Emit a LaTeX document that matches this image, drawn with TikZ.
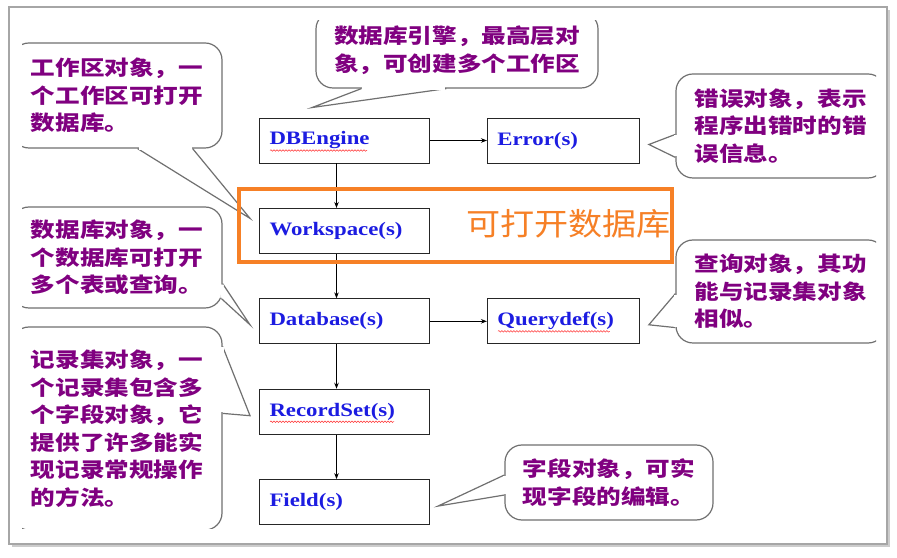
\documentclass[tikz,border=0pt]{standalone}
\usepackage{fontspec}
\setmainfont{Liberation Serif}
\newfontfamily\cjk[FakeStretch=1.2]{Noto Sans CJK SC}
\newfontfamily\hlfont[FakeStretch=1.1]{Noto Sans CJK SC}
\newfontfamily\objfont[FakeStretch=1.2]{Liberation Serif}
\usetikzlibrary{positioning, shadows, arrows.meta, decorations.pathmorphing}
\definecolor{notepurple}{RGB}{128,0,128}
\definecolor{objblue}{RGB}{28,28,225}
\definecolor{hlorange}{RGB}{246,128,38}
\definecolor{notegray}{RGB}{112,112,112}

\begin{document}
\begin{tikzpicture}[
    x=1pt, y=1pt,
    node distance=44.5pt and 57pt,
    >={Stealth[length=6pt, width=4.5pt]},
    panel/.style={draw=black!35, line width=1.2pt, fill=white, drop shadow={shadow xshift=2.5pt, shadow yshift=-3pt, opacity=0.4}},
    object/.style={draw=black!85, line width=0.9pt, minimum height=45pt, text width=150pt, inner xsep=10pt, align=left, text=objblue, font=\objfont\bfseries\fontsize{19}{21}\selectfont},
    subobject/.style={object, text width=132pt},
    note/.style={draw=notegray, line width=1.2pt, fill=white, rounded corners=17pt, inner sep=0pt, align=left, text=notepurple, font=\cjk\bfseries\fontsize{20.5}{27.5}\selectfont},
    tail/.style={draw=notegray, line width=1.2pt},
    gap/.style={draw=white, line width=2.6pt, shorten <=1pt, shorten >=1pt},
    spell/.style={draw=red!80, line width=0.5pt, decorate, decoration={snake, amplitude=0.8pt, segment length=3pt}},
    highlight/.style={draw=hlorange, line width=4.5pt},
    hltext/.style={text=hlorange, inner sep=0pt, font=\hlfont\fontsize{31}{34}\selectfont}
]
    \useasboundingbox (0,0) rectangle (897,557);

    % Frame
    \node[panel, minimum width=878pt, minimum height=537pt] (frame) at (448,281.5) {};

    % Objects
    \node[object] (db) at (344.5,416.5) {DBEngine};
    \node[object, below=of db] (wsp) {Workspace(s)};
    \node[object, below=of wsp] (dbs) {Database(s)};
    \node[object, below=of dbs] (rs) {RecordSet(s)};
    \node[object, below=of rs] (fld) {Field(s)};
    \node[subobject, right=of db] (err) {Error(s)};
    \node[subobject, right=of dbs] (qd) {Querydef(s)};

    % Spelling marks
    \draw[spell] ([xshift=11pt, yshift=-10pt]db.west) -- ++(97,0);
    \draw[spell] ([xshift=11pt, yshift=-10pt]rs.west) -- ++(124,0);
    \draw[spell] ([xshift=11pt, yshift=-10pt]qd.west) -- ++(112,0);

    % Arrows
    \draw[->, line width=0.9pt] ([xshift=-8pt]db.south) -- ([xshift=-8pt]wsp.north);
    \draw[->, line width=0.9pt] ([xshift=-8pt]wsp.south) -- ([xshift=-8pt]dbs.north);
    \draw[->, line width=0.9pt] ([xshift=-8pt]dbs.south) -- ([xshift=-8pt]rs.north);
    \draw[->, line width=0.9pt] ([xshift=-8pt]rs.south) -- ([xshift=-8pt]fld.north);
    \draw[->, line width=0.9pt] (db) -- (err);
    \draw[->, line width=0.9pt] (dbs) -- (qd);

    \begin{scope}
    \clip (22,28) rectangle (876,536);

    % Notes
    \node[note, minimum width=282pt, minimum height=76pt] (cdb) at (457,507) {数据库引擎，最高层对\\象，可创建多个工作区};
    \node[note, minimum width=210pt, minimum height=105pt] (cwsp) at (117,461.5) {工作区对象，一\\个工作区可打开\\数据库。};
    \node[note, minimum width=210pt, minimum height=101pt] (cdbs) at (117,299.5) {数据库对象，一\\个数据库可打开\\多个表或查询。};
    \node[note, minimum width=210pt, minimum height=203pt] (crs) at (117,128.5) {记录集对象，一\\个记录集包含多\\个字段对象，它\\提供了许多能实\\现记录常规操作\\的方法。};
    \node[note, minimum width=209pt, minimum height=104pt] (cerr) at (780.5,431) {错误对象，表示\\程序出错时的错\\误信息。};
    \node[note, minimum width=209pt, minimum height=103pt] (cqd) at (780.5,265.5) {查询对象，其功\\能与记录集对象\\相似。};
    \node[note, minimum width=208pt, minimum height=75pt] (cfld) at (609,74.5) {字段对象，可实\\现字段的编辑。};

    % Tails
    \draw[tail] ([xshift=46pt]cdb.south west) -- ([xshift=-32.5pt, yshift=10pt]db.north) -- ([xshift=131pt]cdb.south west);
    \draw[gap] ([xshift=46pt]cdb.south west) -- ([xshift=131pt]cdb.south west);
    \draw[tail] ([xshift=-85pt]cwsp.south east) -- ([xshift=-9pt, yshift=12.5pt]wsp.west) -- ([xshift=-30pt]cwsp.south east);
    \draw[gap] ([xshift=-85pt]cwsp.south east) -- ([xshift=-30pt]cwsp.south east);
    \draw[tail] ([yshift=25pt]cdbs.south east) -- ([xshift=-9pt, yshift=-3.5pt]dbs.west) -- ([xshift=-1.2pt, yshift=10pt]cdbs.south east);
    \draw[gap] ([yshift=25pt]cdbs.south east) -- ([xshift=-1.2pt, yshift=10pt]cdbs.south east);
    \draw[tail] ([yshift=-20pt]crs.north east) -- ([xshift=-9pt, yshift=-4pt]rs.west) -- ([yshift=-87pt]crs.north east);
    \draw[gap] ([yshift=-20pt]crs.north east) -- ([yshift=-87pt]crs.north east);
    \draw[tail] ([yshift=-61pt]cerr.north west) -- ([xshift=9pt, yshift=-4pt]err.east) -- ([yshift=-84pt]cerr.north west);
    \draw[gap] ([yshift=-61pt]cerr.north west) -- ([yshift=-84pt]cerr.north west);
    \draw[tail] ([yshift=50pt]cqd.south west) -- ([xshift=9pt, yshift=-3.5pt]qd.east) -- ([yshift=16pt]cqd.south west);
    \draw[gap] ([yshift=50pt]cqd.south west) -- ([yshift=16pt]cqd.south west);
    \draw[tail] ([yshift=7.5pt]cfld.west) -- ([xshift=8pt, yshift=-4pt]fld.east) -- ([yshift=-12.5pt]cfld.west);
    \draw[gap] ([yshift=7.5pt]cfld.west) -- ([yshift=-12.5pt]cfld.west);
    \end{scope}

    % Highlight
    \node[highlight, minimum width=433pt, minimum height=73pt] (hl) at (455.5,331.5) {};
    \node[hltext, anchor=east] (hltxt) at ([xshift=-3pt, yshift=1.5pt]hl.east) {可打开数据库};

\end{tikzpicture}
\end{document}
